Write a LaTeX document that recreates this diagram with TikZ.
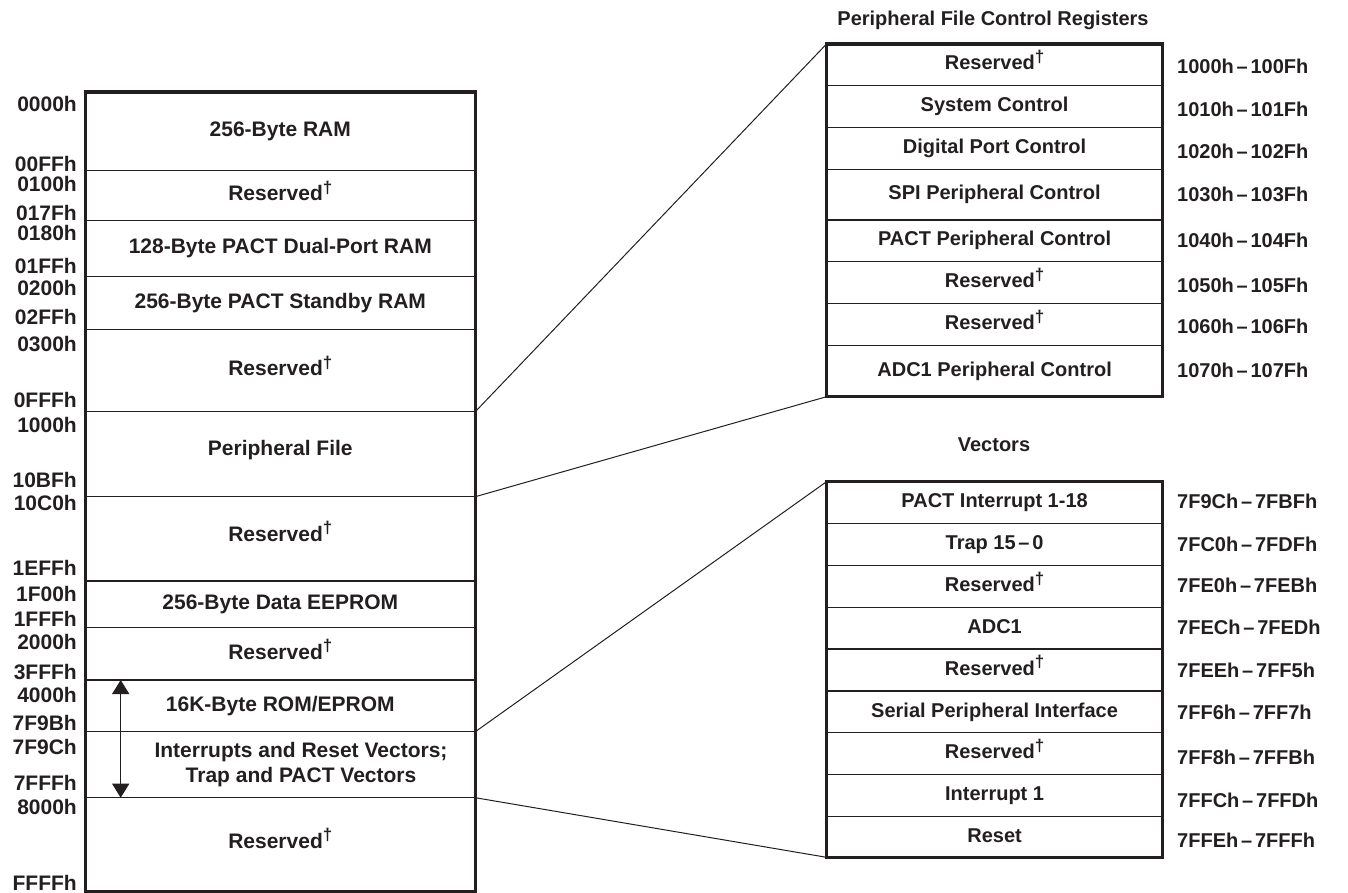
\documentclass[tikz,border=0pt]{standalone}
\usepackage{fontspec}
\setmainfont{Liberation Sans}
\usetikzlibrary{arrows.meta}
\definecolor{ink}{HTML}{231F20}
\newcommand\dg{\raisebox{0.36em}{\fontsize{17}{17}\selectfont †}}
\newcommand\rng[2]{#1\hspace{0.14em}–\hspace{0.14em}#2}
\begin{document}
\begin{tikzpicture}[x=1pt,y=-1pt,
  big/.style={font=\fontsize{21}{25}\selectfont\bfseries, text=ink},
  small/.style={font=\fontsize{20}{24}\selectfont\bfseries, text=ink},
  cell/.style={draw=ink, line width=1.4pt, rectangle, outer sep=0pt, inner sep=0pt, anchor=north west, align=center},
  lcell/.style={cell, big, minimum width=390pt, text height=15pt, text depth=4.5pt},
  rcell/.style={cell, small, minimum width=336.2pt, text height=14.5pt, text depth=4.2pt},
  frame/.style={draw=ink, line width=3.3pt, rectangle, outer sep=0pt, inner sep=0pt, anchor=north west},
  laddr/.style={big, anchor=east, inner sep=0pt, text height=15pt, text depth=0pt},
  raddr/.style={small, anchor=west, inner sep=0pt, text height=14.5pt, text depth=0pt},
  link/.style={draw=ink, line width=1pt},
  ttl/.style={small, inner sep=0pt}
]
\useasboundingbox (0,0) rectangle (1348,893);

% ---------- memory map (left) ----------
\node[lcell, minimum height=78.7pt] (c1) at (85.3,92) {256-Byte RAM};
\node[lcell, minimum height=50pt] (c2) at (85.3,170.7) {Reserved\dg};
\node[lcell, minimum height=56pt] (c3) at (85.3,220.7) {128-Byte PACT Dual-Port RAM};
\node[lcell, minimum height=52.6pt] (c4) at (85.3,276.7) {256-Byte PACT Standby RAM};
\node[lcell, minimum height=82.4pt] (c5) at (85.3,329.3) {Reserved\dg};
\node[lcell, minimum height=85pt] (c6) at (85.3,411.7) {\raisebox{4pt}{Peripheral File}};
\node[lcell, minimum height=84.3pt] (c7) at (85.3,496.7) {\raisebox{3pt}{Reserved\dg}};
\node[lcell, minimum height=46.7pt] (c8) at (85.3,581) {256-Byte Data EEPROM};
\node[lcell, minimum height=52.3pt] (c9) at (85.3,627.7) {Reserved\dg};
\node[lcell, minimum height=51.7pt] (c10) at (85.3,680) {16K-Byte ROM/EPROM};
\node[lcell, minimum height=66pt] (c11) at (85.3,731.7) {};
\node[lcell, minimum height=94.3pt] (c12) at (85.3,797.7) {\raisebox{2pt}{Reserved\dg}};
\node[big, align=center, inner sep=0pt] (c11t) at (301,765) {Interrupts and Reset Vectors;\\Trap and PACT Vectors};
\node[frame, minimum width=390pt, minimum height=800pt] (map) at (85.3,92) {};

% addresses
\node[laddr] (a1) at (77,104) {0000h};
\node[laddr] (a2) at (77,164) {00FFh};
\node[laddr] (a3) at (77,184) {0100h};
\node[laddr] (a4) at (77,212.7) {017Fh};
\node[laddr] (a5) at (77,233) {0180h};
\node[laddr] (a6) at (77,265.7) {01FFh};
\node[laddr] (a7) at (77,288) {0200h};
\node[laddr] (a8) at (77,317) {02FFh};
\node[laddr] (a9) at (77,344) {0300h};
\node[laddr] (a10) at (77,400) {0FFFh};
\node[laddr] (a11) at (77,425) {1000h};
\node[laddr] (a12) at (77,480) {10BFh};
\node[laddr] (a13) at (77,502.7) {10C0h};
\node[laddr] (a14) at (77,568) {1EFFh};
\node[laddr] (a15) at (77,594) {1F00h};
\node[laddr] (a16) at (77,619) {1FFFh};
\node[laddr] (a17) at (77,641.7) {2000h};
\node[laddr] (a18) at (77,671.7) {3FFFh};
\node[laddr] (a19) at (77,695) {4000h};
\node[laddr] (a20) at (77,723) {7F9Bh};
\node[laddr] (a21) at (77,746.7) {7F9Ch};
\node[laddr] (a22) at (77,783) {7FFFh};
\node[laddr] (a23) at (77,806.7) {8000h};
\node[laddr] (a24) at (77,883) {FFFFh};

% double arrow over ROM + vectors
\coordinate (atop) at ([xshift=35.4pt]c10.north west);
\coordinate (abot) at ([xshift=35.4pt]c11.south west);
\draw[draw=ink, line width=1.4pt, {Triangle[width=17pt,length=14pt]}-{Triangle[width=17pt,length=14pt]}] (atop) -- (abot);

% ---------- peripheral file control registers ----------
\node[ttl] (pft) at (993,20.7) {Peripheral File Control Registers};
\node[rcell, minimum height=41.7pt] (r1) at (826.5,44) {Reserved\dg};
\node[rcell, minimum height=41.6pt] (r2) at (826.5,85.7) {System Control};
\node[rcell, minimum height=42pt] (r3) at (826.5,127.3) {Digital Port Control};
\node[rcell, minimum height=50.7pt] (r4) at (826.5,169.3) {SPI Peripheral Control};
\node[rcell, minimum height=41.7pt] (r5) at (826.5,220) {PACT Peripheral Control};
\node[rcell, minimum height=42pt] (r6) at (826.5,261.7) {Reserved\dg};
\node[rcell, minimum height=42pt] (r7) at (826.5,303.7) {Reserved\dg};
\node[rcell, minimum height=51pt] (r8) at (826.5,345.7) {ADC1 Peripheral Control};
\node[frame, minimum width=336.2pt, minimum height=352.7pt] (pf) at (826.5,44) {};

\node[raddr] (p1) at (1177,66.7) {\rng{1000h}{100Fh}};
\node[raddr] (p2) at (1177,109.3) {\rng{1010h}{101Fh}};
\node[raddr] (p3) at (1177,151.7) {\rng{1020h}{102Fh}};
\node[raddr] (p4) at (1177,194.3) {\rng{1030h}{103Fh}};
\node[raddr] (p5) at (1177,240.7) {\rng{1040h}{104Fh}};
\node[raddr] (p6) at (1177,285) {\rng{1050h}{105Fh}};
\node[raddr] (p7) at (1177,326) {\rng{1060h}{106Fh}};
\node[raddr] (p8) at (1177,370.7) {\rng{1070h}{107Fh}};

% ---------- vectors ----------
\node[ttl] (vt) at (994,445) {Vectors};
\node[rcell, minimum height=41.6pt] (v1) at (826.5,481.7) {PACT Interrupt 1-18};
\node[rcell, minimum height=42.4pt] (v2) at (826.5,523.3) {Trap 15\hspace{0.14em}–\hspace{0.14em}0};
\node[rcell, minimum height=41.6pt] (v3) at (826.5,565.7) {Reserved\dg};
\node[rcell, minimum height=41.7pt] (v4) at (826.5,607.3) {ADC1};
\node[rcell, minimum height=42pt] (v5) at (826.5,649) {Reserved\dg};
\node[rcell, minimum height=41.7pt] (v6) at (826.5,691) {Serial Peripheral Interface};
\node[rcell, minimum height=41.6pt] (v7) at (826.5,732.7) {Reserved\dg};
\node[rcell, minimum height=42.4pt] (v8) at (826.5,774.3) {Interrupt 1};
\node[rcell, minimum height=40.6pt] (v9) at (826.5,816.7) {Reset};
\node[frame, minimum width=336.2pt, minimum height=375.6pt] (vec) at (826.5,481.7) {};

\node[raddr] (q1) at (1177,501.7) {\rng{7F9Ch}{7FBFh}};
\node[raddr] (q2) at (1177,544) {\rng{7FC0h}{7FDFh}};
\node[raddr] (q3) at (1177,585.7) {\rng{7FE0h}{7FEBh}};
\node[raddr] (q4) at (1177,627.3) {\rng{7FECh}{7FEDh}};
\node[raddr] (q5) at (1177,670) {\rng{7FEEh}{7FF5h}};
\node[raddr] (q6) at (1177,712.7) {\rng{7FF6h}{7FF7h}};
\node[raddr] (q7) at (1177,757.3) {\rng{7FF8h}{7FFBh}};
\node[raddr] (q8) at (1177,800) {\rng{7FFCh}{7FFDh}};
\node[raddr] (q9) at (1177,840.7) {\rng{7FFEh}{7FFFh}};

% ---------- expansion connectors ----------
\draw[link] (c6.north east) -- (pf.north west);
\draw[link] (c6.south east) -- (pf.south west);
\draw[link] (c11.north east) -- (vec.north west);
\draw[link] (c11.south east) -- (vec.south west);
\end{tikzpicture}
\end{document}
